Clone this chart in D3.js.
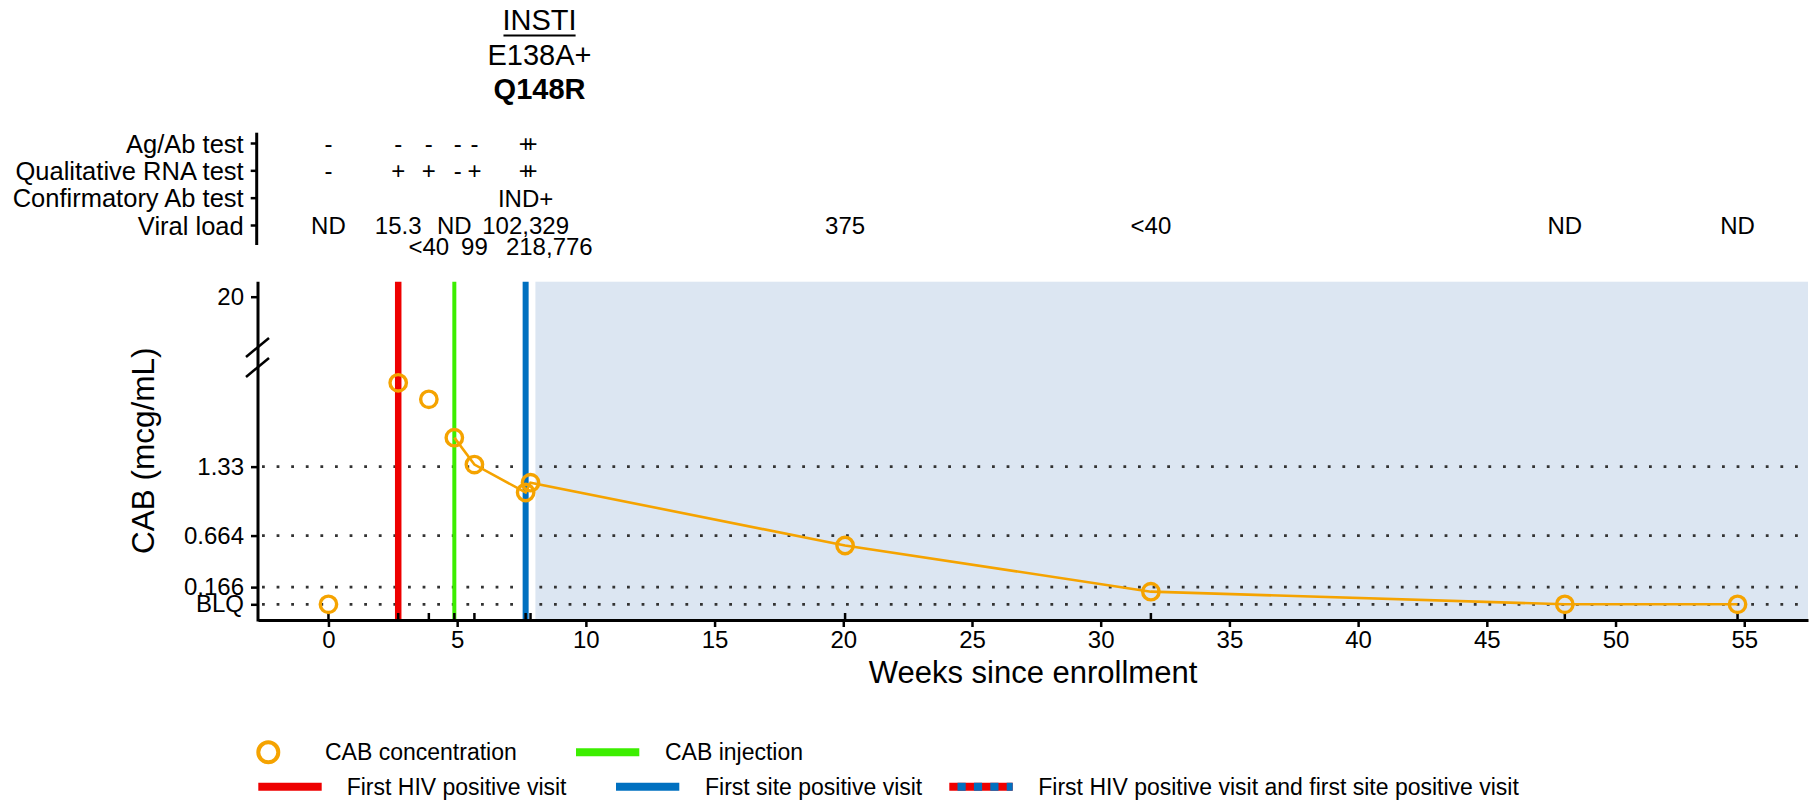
<!DOCTYPE html>
<html>
<head>
<meta charset="utf-8">
<script src="https://cdn.jsdelivr.net/npm/d3@7"></script>
<style>
  html, body { margin: 0; padding: 0; background: #ffffff; }
  svg { display: block; font-family: "Liberation Sans", Arial, Helvetica, sans-serif; }
</style>
</head>
<body>
<svg id="chart" width="1816" height="801"></svg>
<script>
// ---------------- DATA ----------------
const visitWeeks = [0, 2.71, 3.9, 4.89, 5.67, 7.66, 7.85, 20.07, 31.95, 48.03, 54.74];
const cabValues  = [0, 2.14, 1.98, 1.61, 1.35, 1.08, 1.175, 0.568, 0.122, 0, 0];
const lineStartIndex = 3; // concentration line drawn from the CAB injection visit onward

const firstHivPositiveWeek = 2.71;
const cabInjectionWeek = 4.89;
const firstSitePositiveWeek = 7.66;
const shadedStartWeek = 8.04;

const xTickValues = [0, 5, 10, 15, 20, 25, 30, 35, 40, 45, 50, 55];
const yTickValues = [0, 0.166, 0.664, 1.33, 20];
const yTickLabels = ["BLQ", "0.166", "0.664", "1.33", "20"];
const yDottedValues = [0, 0.166, 0.664, 1.33];

const headerRows = ["Ag/Ab test", "Qualitative RNA test", "Confirmatory Ab test", "Viral load"];
const agAbWeeks   = [0, 2.71, 3.9, 5.02, 5.67, 7.66, 7.85];
const agAbResults = ["-", "-", "-", "-", "-", "+", "+"];
const rnaWeeks    = [0, 2.71, 3.9, 5.02, 5.67, 7.66, 7.85];
const rnaResults  = ["-", "+", "+", "-", "+", "+", "+"];
const confirmWeeks   = [7.66];
const confirmResults = ["IND+"];
const viralWeeks1  = [0, 2.71, 4.89, 7.66, 20.07, 31.95, 48.03, 54.74];
const viralLabels1 = ["ND", "15.3", "ND", "102,329", "375", "<40", "ND", "ND"];
const viralWeeks2  = [3.9, 5.67, 8.58];
const viralLabels2 = ["<40", "99", "218,776"];

const resistanceWeek = 8.2;
const resistanceLines = ["INSTI", "E138A+", "Q148R"];

const legendRow1 = ["CAB concentration", "CAB injection"];
const legendRow2 = ["First HIV positive visit", "First site positive visit", "First HIV positive visit and first site positive visit"];

// ---------------- STYLE / LAYOUT ----------------
const C = {
  orange: "#f5a300", red: "#ee0000", green: "#3cee00", blue: "#0070c0",
  shade: "#dce6f2", dots: "#333333", ink: "#000000"
};
const plot = { left: 258, right: 1808, top: 281.7, bottom: 620 };

const svg = d3.select("#chart");

const x = d3.scaleLinear().domain([-2.737, 57.477]).range([plot.left, plot.right]);
const y = d3.scaleLinear().domain([0, 2.45, 20]).range([604.3, 350.7, 296.7]);

// shaded region
svg.append("rect")
  .attr("x", x(shadedStartWeek)).attr("y", plot.top)
  .attr("width", plot.right - x(shadedStartWeek)).attr("height", plot.bottom - plot.top)
  .attr("fill", C.shade);

// dotted reference lines
svg.append("g").selectAll("line").data(yDottedValues).join("line")
  .attr("x1", plot.left + 4).attr("x2", plot.right)
  .attr("y1", d => y(d)).attr("y2", d => y(d))
  .attr("stroke", C.dots).attr("stroke-width", 2.8)
  .attr("stroke-dasharray", "2.8 11.8");

// event lines
const events = [
  { w: firstHivPositiveWeek, c: C.red, sw: 6.5 },
  { w: cabInjectionWeek, c: C.green, sw: 4 },
  { w: firstSitePositiveWeek, c: C.blue, sw: 6 }
];
svg.append("g").selectAll("line").data(events).join("line")
  .attr("x1", d => x(d.w)).attr("x2", d => x(d.w))
  .attr("y1", plot.top).attr("y2", plot.bottom)
  .attr("stroke", d => d.c).attr("stroke-width", d => d.sw);

// rug ticks above axis
svg.append("g").selectAll("line").data(visitWeeks).join("line")
  .attr("x1", d => x(d)).attr("x2", d => x(d))
  .attr("y1", plot.bottom).attr("y2", plot.bottom - 7)
  .attr("stroke", C.ink).attr("stroke-width", 2.5);

// concentration line
const pts = visitWeeks.map((w, i) => ({ w, v: cabValues[i], i }));
svg.append("path")
  .datum(pts.filter(p => p.i >= lineStartIndex))
  .attr("fill", "none").attr("stroke", C.orange).attr("stroke-width", 2.6)
  .attr("d", d3.line().x(d => x(d.w)).y(d => y(d.v)));

// points
svg.append("g").selectAll("circle").data(pts).join("circle")
  .attr("cx", d => x(d.w)).attr("cy", d => y(d.v)).attr("r", 8.2)
  .attr("fill", "none").attr("stroke", C.orange).attr("stroke-width", 3.4);

// x axis
const xAxis = svg.append("g").attr("transform", `translate(0,${plot.bottom})`)
  .call(d3.axisBottom(x).tickValues(xTickValues).tickSize(7).tickSizeOuter(0).tickPadding(4));
xAxis.select(".domain").attr("stroke-width", 3);
xAxis.selectAll(".tick line").attr("stroke-width", 2.5);
xAxis.selectAll(".tick text").attr("font-size", 24).attr("fill", C.ink)
  .attr("font-family", "'Liberation Sans', Arial, sans-serif");

// y axis
svg.append("line").attr("x1", plot.left).attr("x2", plot.left)
  .attr("y1", plot.top).attr("y2", plot.bottom + 1.5)
  .attr("stroke", C.ink).attr("stroke-width", 3);
const yAxis = svg.append("g").attr("transform", `translate(${plot.left},0)`)
  .call(d3.axisLeft(y).tickValues(yTickValues).tickFormat((d, i) => yTickLabels[i]).tickSize(7).tickPadding(7));
yAxis.select(".domain").remove();
yAxis.selectAll(".tick line").attr("stroke-width", 2.5);
yAxis.selectAll(".tick text").attr("font-size", 24).attr("fill", C.ink)
  .attr("font-family", "'Liberation Sans', Arial, sans-serif");

// axis break marks
const brk = svg.append("g").attr("stroke", C.ink).attr("stroke-width", 2.5);
[0, 20].forEach(off => {
  brk.append("line")
    .attr("x1", plot.left - 12).attr("y1", 357 + off)
    .attr("x2", plot.left + 11).attr("y2", 338 + off);
});

// axis titles
svg.append("text").attr("x", (plot.left + plot.right) / 2).attr("y", 672)
  .attr("text-anchor", "middle").attr("dominant-baseline", "central")
  .attr("font-size", 31).text("Weeks since enrollment");
svg.append("text")
  .attr("transform", `translate(143,${(plot.top + plot.bottom) / 2}) rotate(-90)`)
  .attr("text-anchor", "middle").attr("dominant-baseline", "central")
  .attr("font-size", 31.5).text("CAB (mcg/mL)");

// ---------------- HEADER TABLE ----------------
const rowY = d3.scalePoint().domain(headerRows).range([143.5, 225.5]);
const hdrAxisX = 256.7;
svg.append("line").attr("x1", hdrAxisX).attr("x2", hdrAxisX)
  .attr("y1", 132.7).attr("y2", 245).attr("stroke", C.ink).attr("stroke-width", 3);
const hdr = svg.append("g");
hdr.selectAll("line").data(headerRows).join("line")
  .attr("x1", hdrAxisX - 6).attr("x2", hdrAxisX)
  .attr("y1", d => rowY(d)).attr("y2", d => rowY(d))
  .attr("stroke", C.ink).attr("stroke-width", 2.5);
hdr.selectAll("text").data(headerRows).join("text")
  .attr("x", hdrAxisX - 13).attr("y", d => rowY(d))
  .attr("text-anchor", "end").attr("dominant-baseline", "central")
  .attr("font-size", 25.5).text(d => d);

function rowText(weeks, labels, yy) {
  svg.append("g").selectAll("text").data(weeks).join("text")
    .attr("x", d => x(d)).attr("y", yy)
    .attr("text-anchor", "middle").attr("dominant-baseline", "central")
    .attr("font-size", 24).text((d, i) => labels[i]);
}
rowText(agAbWeeks, agAbResults, rowY(headerRows[0]));
rowText(rnaWeeks, rnaResults, rowY(headerRows[1]));
rowText(confirmWeeks, confirmResults, rowY(headerRows[2]));
rowText(viralWeeks1, viralLabels1, rowY(headerRows[3]));
rowText(viralWeeks2, viralLabels2, rowY(headerRows[3]) + 21.2);

// resistance annotation
const resY = [20, 54.5, 89];
resistanceLines.forEach((t, i) => {
  const tx = svg.append("text").attr("x", x(resistanceWeek)).attr("y", resY[i])
    .attr("text-anchor", "middle").attr("dominant-baseline", "central")
    .attr("font-size", 29).attr("font-weight", i === 2 ? "bold" : "normal").text(t);
  if (i === 0) {
    const bb = tx.node().getBBox();
    svg.append("line").attr("x1", bb.x + 1).attr("x2", bb.x + bb.width - 1)
      .attr("y1", 35.5).attr("y2", 35.5).attr("stroke", C.ink).attr("stroke-width", 1.8);
  }
});

// ---------------- LEGEND ----------------
const lg = svg.append("g").attr("font-size", 23);
const r1 = 752.3, r2 = 786.7;
lg.append("circle").attr("cx", 268.3).attr("cy", r1).attr("r", 10)
  .attr("fill", "none").attr("stroke", C.orange).attr("stroke-width", 4);
lg.append("text").attr("x", 325).attr("y", r1).attr("dominant-baseline", "central").text(legendRow1[0]);
lg.append("line").attr("x1", 576).attr("x2", 639.3).attr("y1", r1).attr("y2", r1)
  .attr("stroke", C.green).attr("stroke-width", 8);
lg.append("text").attr("x", 665).attr("y", r1).attr("dominant-baseline", "central").text(legendRow1[1]);

lg.append("line").attr("x1", 258.3).attr("x2", 321.7).attr("y1", r2).attr("y2", r2)
  .attr("stroke", C.red).attr("stroke-width", 8);
lg.append("text").attr("x", 346.7).attr("y", r2).attr("dominant-baseline", "central").text(legendRow2[0]);
lg.append("line").attr("x1", 616).attr("x2", 679.3).attr("y1", r2).attr("y2", r2)
  .attr("stroke", C.blue).attr("stroke-width", 8);
lg.append("text").attr("x", 705).attr("y", r2).attr("dominant-baseline", "central").text(legendRow2[1]);
lg.append("line").attr("x1", 949.3).attr("x2", 1012.7).attr("y1", r2).attr("y2", r2)
  .attr("stroke", C.red).attr("stroke-width", 8);
lg.append("line").attr("x1", 949.3).attr("x2", 1012.7).attr("y1", r2).attr("y2", r2)
  .attr("stroke", C.blue).attr("stroke-width", 8)
  .attr("stroke-dasharray", "8.2 8.2").attr("stroke-dashoffset", 8.2);
lg.append("text").attr("x", 1038.3).attr("y", r2).attr("dominant-baseline", "central").text(legendRow2[2]);
</script>
</body>
</html>
